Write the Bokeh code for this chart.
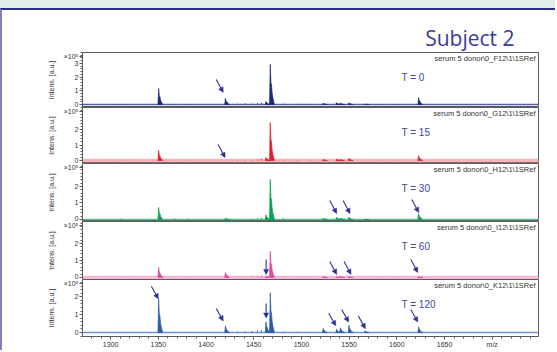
from bokeh.plotting import figure
from bokeh.layouts import column
from bokeh.models import (Range1d, FixedTicker, Span, Arrow, NormalHead, Label,
                          Title, ColumnDataSource)
from bokeh.embed import file_html
from bokeh.resources import INLINE

# ---------------- data (intensities in units of 10^5 a.u.) ----------------
peak_mz = [1350.5, 1420.5, 1463.0, 1467.5, 1523.0, 1537.0, 1541.0, 1550.0, 1567.0, 1623.0]
int_t0 = [1.17, 0.44, 0.22, 2.92, 0.10, 0.13, 0.10, 0.13, 0.03, 0.50]
int_t15 = [0.65, 0.00, 0.20, 2.45, 0.08, 0.10, 0.08, 0.14, 0.00, 0.32]
int_t30 = [0.73, 0.08, 0.28, 2.42, 0.09, 0.14, 0.09, 0.14, 0.02, 0.36]
int_t60 = [0.59, 0.29, 0.08, 1.53, 0.05, 0.04, 0.06, 0.06, 0.00, 0.05]
int_t120 = [1.89, 0.38, 0.60, 2.22, 0.23, 0.18, 0.27, 0.41, 0.10, 0.32]

noise_mz = [1310, 1367, 1381, 1433, 1441, 1448, 1454, 1458, 1481, 1496, 1509, 1582, 1600]
noise_t0 = [0.02, 0.02, 0.02, 0.06, 0.08, 0.06, 0.10, 0.12, 0.06, 0.05, 0.04, 0.03, 0.03]
noise_t15 = [0.02, 0.02, 0.02, 0.03, 0.04, 0.03, 0.06, 0.12, 0.05, 0.03, 0.03, 0.02, 0.02]
noise_t30 = [0.06, 0.08, 0.06, 0.03, 0.04, 0.05, 0.08, 0.12, 0.08, 0.03, 0.03, 0.02, 0.02]
noise_t60 = [0.02, 0.02, 0.02, 0.03, 0.04, 0.05, 0.06, 0.10, 0.04, 0.03, 0.02, 0.02, 0.02]
noise_t120 = [0.03, 0.03, 0.03, 0.05, 0.06, 0.08, 0.12, 0.15, 0.05, 0.04, 0.03, 0.03, 0.03]

# arrow tips (m/z, intensity); kind d = diagonal, v = vertical
arrow_mz_t0, arrow_y_t0, arrow_kind_t0 = [1418], [0.88], ["d"]
arrow_mz_t15, arrow_y_t15, arrow_kind_t15 = [1420], [0.19], ["d"]
arrow_mz_t30, arrow_y_t30, arrow_kind_t30 = [1537, 1551, 1623], [0.36, 0.36, 0.42], ["d", "d", "d"]
arrow_mz_t60, arrow_y_t60, arrow_kind_t60 = ([1463, 1537, 1552, 1622], [0.18, 0.18, 0.18, 0.29],
                                             ["v", "d", "d", "d"])
arrow_mz_t120, arrow_y_t120, arrow_kind_t120 = ([1350, 1418, 1463, 1536, 1549.5, 1567, 1622],
                                                [1.89, 0.65, 0.81, 0.38, 0.59, 0.22, 0.59],
                                                ["d", "d", "v", "d", "d", "d", "d"])

time_labels = ["T = 0", "T = 15", "T = 30", "T = 60", "T = 120"]
run_names = [r"serum 5 donor\0_F12\1\1SRef", r"serum 5 donor\0_G12\1\1SRef",
             r"serum 5 donor\0_H12\1\1SRef", r"serum 5 donor\0_I12\1\1SRef",
             r"serum 5 donor\0_K12\1\1SRef"]
x_ticks = [1300, 1350, 1400, 1450, 1500, 1550, 1600, 1650, 1700]
x_axis_unit = "m/z"
y_scale_label = "\u00d710\u2075"

# ---------------- layout / style ----------------
X_START, X_END = 1270.5, 1748.5
FRAME_W = 456
LEFT, RIGHT = 80, 17
FIG_W = LEFT + FRAME_W + RIGHT
ARROW_C = "#2e3192"
AXIS_FONT = "Liberation Sans"

xr = Range1d(X_START, X_END)

panels = [
    dict(ints=int_t0, noise=noise_t0, yr=(-0.22, 3.80), ticks=[0, 1, 2, 3], h=55,
         color="#1c2677", base="#5660a8", base_w=1.4,
         arrows=(arrow_mz_t0, arrow_y_t0, arrow_kind_t0)),
    dict(ints=int_t15, noise=noise_t15, yr=(-0.19, 3.42), ticks=[0, 1, 2], h=56,
         color="#e51e2b", base="#f6b4b9", base_w=3.5,
         arrows=(arrow_mz_t15, arrow_y_t15, arrow_kind_t15)),
    dict(ints=int_t30, noise=noise_t30, yr=(-0.12, 3.39), ticks=[0, 1, 2], h=58,
         color="#00a54f", base="#5dbd8c", base_w=1.4,
         arrows=(arrow_mz_t30, arrow_y_t30, arrow_kind_t30)),
    dict(ints=int_t60, noise=noise_t60, yr=(-0.12, 3.29), ticks=[0, 1, 2], h=58,
         color="#e2489d", base="#f4b8d8", base_w=3.5,
         arrows=(arrow_mz_t60, arrow_y_t60, arrow_kind_t60)),
    dict(ints=int_t120, noise=noise_t120, yr=(-0.22, 2.97), ticks=[0, 1, 2], h=59,
         color="#2b5cab", base="#6a94d4", base_w=1.4,
         arrows=(arrow_mz_t120, arrow_y_t120, arrow_kind_t120)),
]

TOP_FIRST = 42
BOTTOM_LAST = 12

figs = []
for i, spec in enumerate(panels):
    first = i == 0
    last = i == len(panels) - 1
    top = TOP_FIRST if first else 0
    bottom = BOTTOM_LAST if last else 0
    y0, y1 = spec["yr"]
    ppx = FRAME_W / (X_END - X_START)
    ppy = spec["h"] / (y1 - y0)
    p = figure(width=FIG_W, height=top + spec["h"] + bottom,
               x_range=xr, y_range=Range1d(y0, y1),
               output_backend="svg", toolbar_location=None,
               x_axis_location="below" if last else None,
               min_border_left=LEFT, min_border_right=RIGHT,
               min_border_top=top, min_border_bottom=bottom)
    p.background_fill_color = "white"
    p.border_fill_color = "white"
    p.outline_line_color = "#5a5a5a"
    p.outline_line_width = 1
    p.xgrid.grid_line_color = None
    p.ygrid.grid_line_color = None

    # y axis; the scale factor sits at the top of the axis as a tick label
    ya = p.yaxis[0]
    scale_tick = round(y1 - 4.0 / ppy, 3)
    ya.ticker = FixedTicker(ticks=spec["ticks"] + [scale_tick],
                            minor_ticks=[round(k * 0.2, 2) for k in range(-1, 21)])
    ya.major_label_overrides = {scale_tick: y_scale_label}
    ya.axis_label = "Intens. [a.u.]"
    ya.axis_label_text_font = AXIS_FONT
    ya.axis_label_text_font_size = "7px"
    ya.axis_label_text_font_style = "normal"
    ya.axis_label_text_color = "#333333"
    ya.axis_label_standoff = 6
    ya.major_label_text_font = AXIS_FONT
    ya.major_label_text_font_size = "7px"
    ya.major_label_text_color = "#333333"
    ya.major_label_standoff = 1
    ya.axis_line_color = "#5a5a5a"
    ya.major_tick_line_color = "#5a5a5a"
    ya.minor_tick_line_color = "#5a5a5a"
    ya.major_tick_out = 3
    ya.major_tick_in = 0
    ya.minor_tick_out = 2
    ya.minor_tick_in = 0

    if last:
        xa = p.xaxis[0]
        xa.ticker = FixedTicker(ticks=x_ticks, minor_ticks=list(range(1280, 1741, 10)))
        xa.major_label_overrides = {1700: x_axis_unit}
        xa.major_label_text_font = AXIS_FONT
        xa.major_label_text_font_size = "7px"
        xa.major_label_text_color = "#333333"
        xa.major_label_standoff = 1
        xa.axis_line_color = "#5a5a5a"
        xa.major_tick_line_color = "#5a5a5a"
        xa.minor_tick_line_color = "#5a5a5a"
        xa.major_tick_out = 3
        xa.major_tick_in = 0
        xa.minor_tick_out = 2
        xa.minor_tick_in = 0

    # baseline
    p.add_layout(Span(location=0, dimension="width", line_color=spec["base"],
                      line_width=spec["base_w"], level="underlay"))

    # noise spikes
    nsrc = ColumnDataSource(dict(x=noise_mz, y=spec["noise"]))
    p.segment(x0="x", y0=0, x1="x", y1="y", source=nsrc, line_color=spec["color"],
              line_width=0.9)

    # peaks (isotope envelope drawn as filled profile)
    xs, ys = [], []
    for m, hgt in zip(peak_mz, spec["ints"]):
        if hgt <= 0:
            continue
        xs.append([m - 0.9, m - 0.2, m + 0.5, m + 1.1, m + 1.8, m + 2.6, m + 4.2])
        ys.append([0, hgt, 0.55 * hgt, 0.5 * hgt, 0.28 * hgt, 0.16 * hgt, 0])
    p.patches(xs="xs", ys="ys", source=ColumnDataSource(dict(xs=xs, ys=ys)),
              fill_color=spec["color"], line_color=spec["color"], line_width=0.7)

    # arrows
    amz, ay, akind = spec["arrows"]
    ax0, ay0 = [], []
    for m, yv, k in zip(amz, ay, akind):
        ax0.append(m if k == "v" else m - 7 / ppx)
        ay0.append(yv + (15 if k == "v" else 13) / ppy)
    asrc = ColumnDataSource(dict(x0=ax0, y0=ay0, x1=amz, y1=ay))
    p.add_layout(Arrow(end=NormalHead(size=5, fill_color=ARROW_C, line_color=ARROW_C,
                                      line_width=0.5),
                       source=asrc, x_start="x0", y_start="y0", x_end="x1", y_end="y1",
                       line_color=ARROW_C, line_width=1.1))

    # texts inside the frame
    p.add_layout(Label(x=X_END, y=y1, x_offset=-3, y_offset=-1.5, text=run_names[i],
                       text_align="right", text_baseline="top", text_font=AXIS_FONT,
                       text_font_size="7.5px", text_color="#333333"))
    p.add_layout(Label(x=X_END, y=y1, x_offset=-137, y_offset=-25, text=time_labels[i],
                       text_align="left", text_baseline="middle", text_font=AXIS_FONT,
                       text_font_size="10px", text_color="#3c48a3"))

    if first:
        p.add_layout(Title(text="Subject 2", align="right", offset=24, standoff=2,
                           text_font="Open Sans", text_font_size="21px",
                           text_font_style="normal", text_color="#3a3d9a"), "above")
    figs.append(p)

inner = column(*figs, styles={"border-top": "2px solid #2c2f7f",
                              "border-left": "2px solid #7d82bd"})
layout = column(inner, styles={"border-top": "8px solid #e1efe9"})

open("out.html", "w").write(file_html(layout, INLINE))
